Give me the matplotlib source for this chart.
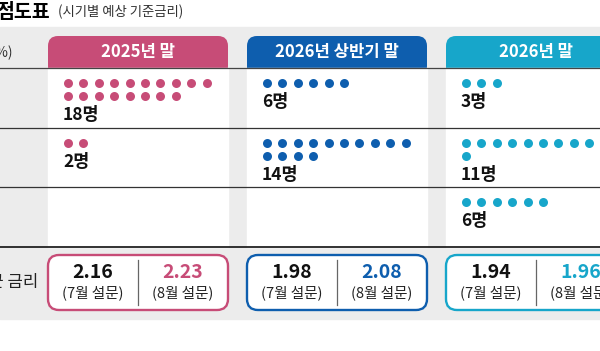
import matplotlib.pyplot as plt
from matplotlib.patches import Rectangle, FancyBboxPatch

plt.rcParams['font.family'] = ['Noto Sans CJK KR', 'DejaVu Sans']

# data
periods = ['2025년 말', '2026년 상반기 말', '2026년 말']
rate_levels = ['2.25', '2.00', '1.75']
# respondents per rate level (top to bottom) for each period
counts = [[18, 2, 0], [6, 14, 0], [3, 11, 6]]
july_avg = [2.16, 1.98, 1.94]
aug_avg = [2.23, 2.08, 1.96]
colors = ['#C74C77', '#0E5EAE', '#17A6CA']

W, H = 600, 351
fig = plt.figure(figsize=(W / 100, H / 100), dpi=100)
ax = fig.add_axes([0, 0, 1, 1])
ax.set_xlim(0, W)
ax.set_ylim(H, 0)
ax.axis('off')

gray = '#ECECEC'
col_x = [48, 247, 446]
col_w = 180
head_top, head_bot = 36, 68
row_tops = [68, 128, 187, 247]
per_line = 10
dot_dx, dot_dy = 15.4, 12.5

# title
ax.text(50, 12, '점도표', ha='right', va='center', fontsize=14, fontweight='bold')
ax.text(58, 12, '(시기별 예상 기준금리)', ha='left', va='center', fontsize=9.6,
        color='#333333')

# background panel
ax.add_patch(Rectangle((0, 27), W, 292, color=gray, zorder=0))
ax.text(12, 52, '(단위: %)', ha='right', va='center', fontsize=10, color='#333333')
ax.text(38, 283, '평균 금리', ha='right', va='center', fontsize=12, color='#222222')

for i, name in enumerate(periods):
    x0 = col_x[i]
    c = colors[i]
    # header tab
    ax.add_patch(FancyBboxPatch((x0, head_top), col_w, 40,
                                boxstyle='round,pad=0,rounding_size=10',
                                fc=c, ec='none', zorder=1))
    ax.text(x0 + col_w / 2, 52, name, ha='center', va='center', fontsize=12,
            fontweight='bold', color='white', zorder=3)
    # white cell area
    ax.add_patch(Rectangle((x0, head_bot), col_w, row_tops[-1] - head_bot,
                           color='white', zorder=2))
    # dots per rate level
    for r, n in enumerate(counts[i]):
        if n == 0:
            continue
        xs = [x0 + 20 + (k % per_line) * dot_dx for k in range(n)]
        ys = [row_tops[r] + 15 + (k // per_line) * dot_dy for k in range(n)]
        ax.scatter(xs, ys, s=42, color=c, linewidths=0, zorder=4)
        ax.text(x0 + 15, ys[-1] + 19, f'{n}명', ha='left', va='center',
                fontsize=12.5, fontweight='bold', color='#111111', zorder=4)
    # average rate box
    ax.add_patch(FancyBboxPatch((x0, 255), col_w, 55,
                                boxstyle='round,pad=0,rounding_size=11',
                                fc='white', ec=c, lw=1.7, zorder=2))
    mid = x0 + col_w / 2
    ax.plot([mid, mid], [260, 305], color='#666666', lw=0.9, zorder=3)
    for cx, val, lab, tc in [(x0 + col_w / 4, july_avg[i], '(7월 설문)', '#111111'),
                             (x0 + 3 * col_w / 4, aug_avg[i], '(8월 설문)', c)]:
        ax.text(cx, 273, f'{val:.2f}', ha='center', va='center', fontsize=14,
                fontweight='bold', color=tc, zorder=4)
        ax.text(cx, 293, lab, ha='center', va='center', fontsize=10.5,
                color='#222222', zorder=4)

# rate level labels (mostly outside the crop on the left)
for r, lab in enumerate(rate_levels):
    ax.text(1, (row_tops[r] + row_tops[r + 1]) / 2, lab, ha='right', va='center',
            fontsize=11, color='#222222')

# horizontal rules
ax.plot([0, W], [head_bot, head_bot], color='#444444', lw=0.9, zorder=5)
for y in row_tops[1:-1]:
    ax.plot([0, W], [y, y], color='#333333', lw=0.9, zorder=5)
ax.plot([0, W], [row_tops[-1], row_tops[-1]], color='#222222', lw=1.3, zorder=5)

fig.savefig('out.png', dpi=100)
